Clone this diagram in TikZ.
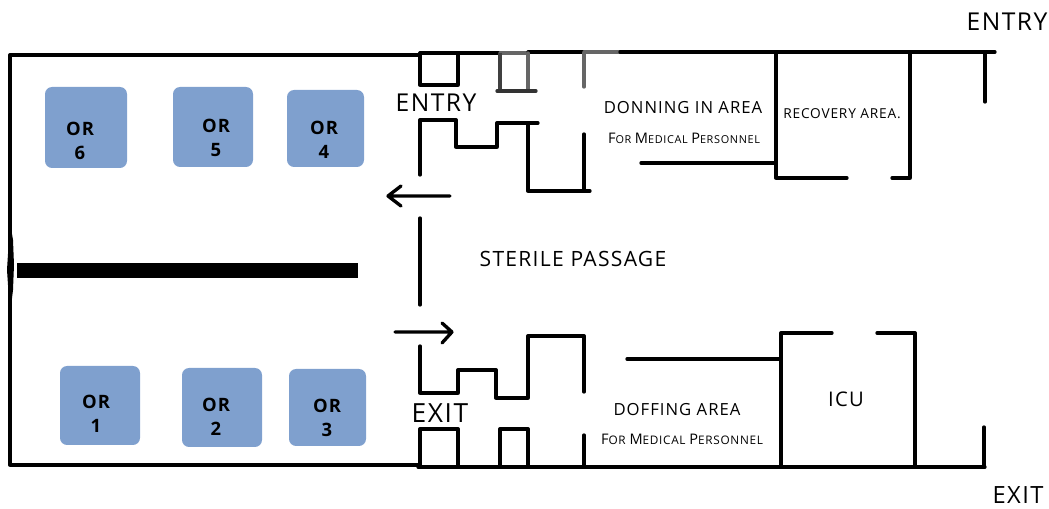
\documentclass[tikz,border=0pt]{standalone}
\usepackage{fontspec}
\setmainfont{Open Sans}[LetterSpace=6]
\newcommand{\initcap}[1]{{\fontsize{8.3}{10}\selectfont #1}}
\begin{document}
\begin{tikzpicture}[x=0.02cm,y=-0.02cm]
	\tikzstyle{wall}=[line width=1.9pt,black,line cap=round,line join=round]
	\tikzstyle{greywall}=[line width=1.9pt,black!60,line cap=round]
	\tikzstyle{room}=[fill=orblue,rounded corners=4pt,draw=none]
	\tikzstyle{orlabel}=[align=center,font=\fontsize{10.5}{14}\selectfont\bfseries,inner sep=0pt]
	\tikzstyle{biglabel}=[font=\fontsize{14}{14}\selectfont,inner sep=0pt]
	\tikzstyle{midlabel}=[font=\fontsize{9.5}{10}\selectfont,inner sep=0pt]
	\tikzstyle{smalllabel}=[font=\fontsize{6.2}{8}\selectfont,inner sep=0pt]
	\definecolor{orblue}{HTML}{7FA0CE}
	\useasboundingbox (0,0) rectangle (1049,509);

	% operating rooms
	\fill[room] (45,87) rectangle (127,168);
	\fill[room] (173,87) rectangle (253,167);
	\fill[room] (287,90) rectangle (364,167);
	\fill[room] (60,366) rectangle (140,445);
	\fill[room] (182,368) rectangle (262,447);
	\fill[room] (289,369) rectangle (366,446);
	\node (or6)[orlabel] at (80,141) {OR\\6};
	\node (or5)[orlabel] at (216,138) {OR\\5};
	\node (or4)[orlabel] at (324,140) {OR\\4};
	\node (or1)[orlabel] at (96,414) {OR\\1};
	\node (or2)[orlabel] at (216,417) {OR\\2};
	\node (or3)[orlabel] at (327,418) {OR\\3};

	% outer walls and divider
	\draw[wall] (418,55) -- (10,55) -- (10,465) -- (418,465);
	\fill[black] (17,263) rectangle (358,278);
	\fill[black] (10,222) -- (13,240) -- (14,265) -- (13,290) -- (10,315) -- (7,270) -- cycle;
	\draw[wall] (420,53) -- (500,53);
	\draw[wall,line width=2.6pt] (458,53) -- (500,53);
	\draw[greywall] (500,53) -- (528,53);
	\draw[wall] (528,52) -- (584,52);
	\draw[greywall] (584,52) -- (620,52);
	\draw[wall] (620,52) -- (995,52);
	\draw[wall] (418,467) -- (985,467);

	% upper entry rooms
	\draw[wall] (420,53) -- (420,85) -- (458,85) -- (458,53);
	\draw[line width=1.9pt,black!75] (500,53) -- (500,91);
	\draw[greywall] (528,53) -- (528,91);
	\draw[line width=1.9pt,black!80,line cap=round] (497,91) -- (536,91);
	\draw[greywall] (584,53) -- (584,87);
	\draw[wall] (420,175) -- (420,120) -- (456,120) -- (456,147) -- (497,147) -- (497,123) -- (538,123);
	\draw[wall] (528,123) -- (528,191) -- (590,191);
	\draw[wall] (584,134) -- (584,191);
	\draw[wall] (641,163) -- (776,163);
	\draw[wall] (776,52) -- (776,178) -- (847,178);
	\draw[wall] (892,178) -- (910,178) -- (910,52);
	\draw[wall] (985,52) -- (985,102);

	% passage wall
	\draw[wall] (420,218) -- (420,305);

	% lower exit rooms
	\draw[wall] (420,346) -- (420,393) -- (458,393) -- (458,370) -- (496,370) -- (496,398) -- (528,398) -- (528,336) -- (584,336) -- (584,392);
	\draw[wall] (420,467) -- (420,429) -- (458,429) -- (458,467);
	\draw[wall] (500,467) -- (500,429) -- (528,429) -- (528,467);
	\draw[wall] (584,435) -- (584,467);
	\draw[wall] (627,359) -- (780,359);
	\draw[wall] (781,467) -- (781,333) -- (832,333);
	\draw[wall] (877,333) -- (915,333) -- (915,467);
	\draw[wall] (984,427) -- (984,467);

	% flow arrows
	\coordinate (inS) at (450,196);
	\coordinate (inE) at (388,196);
	\coordinate (outS) at (395,332);
	\coordinate (outE) at (452,332);
	\draw[wall] (inS) -- (inE) -- ++(13,-10) (inE) -- ++(13,10);
	\draw[wall] (outS) -- (outE) -- ++(-10,-9) (outE) -- ++(-10,11);

	% labels
	\node (entrytop)[biglabel] at (1007,22) {ENTRY};
	\node (exitbot)[biglabel,font=\fontsize{13.5}{14}\selectfont] at (1018,495) {EXIT};
	\node (entryin)[biglabel] at (436,103) {ENTRY};
	\node (exitin)[biglabel,font=\fontsize{15}{15}\selectfont] at (440,413) {EXIT};
	\node (donning)[midlabel] at (683,108) {DONNING IN AREA};
	\node (donfor)[smalllabel] at (684,138) {\initcap{F}OR \initcap{M}EDICAL \initcap{P}ERSONNEL};
	\node (recovery)[smalllabel,font=\fontsize{7.8}{9}\selectfont] at (842,114) {RECOVERY AREA.};
	\node (sterile)[midlabel,font=\fontsize{12}{12}\selectfont] at (573,259) {STERILE PASSAGE};
	\node (doffing)[midlabel] at (677,410) {DOFFING AREA};
	\node (dofffor)[smalllabel,font=\fontsize{6.7}{8}\selectfont] at (682,439) {\initcap{F}OR \initcap{M}EDICAL \initcap{P}ERSONNEL};
	\node (icu)[midlabel,font=\fontsize{11.5}{12}\selectfont] at (846,399) {ICU};
\end{tikzpicture}
\end{document}
